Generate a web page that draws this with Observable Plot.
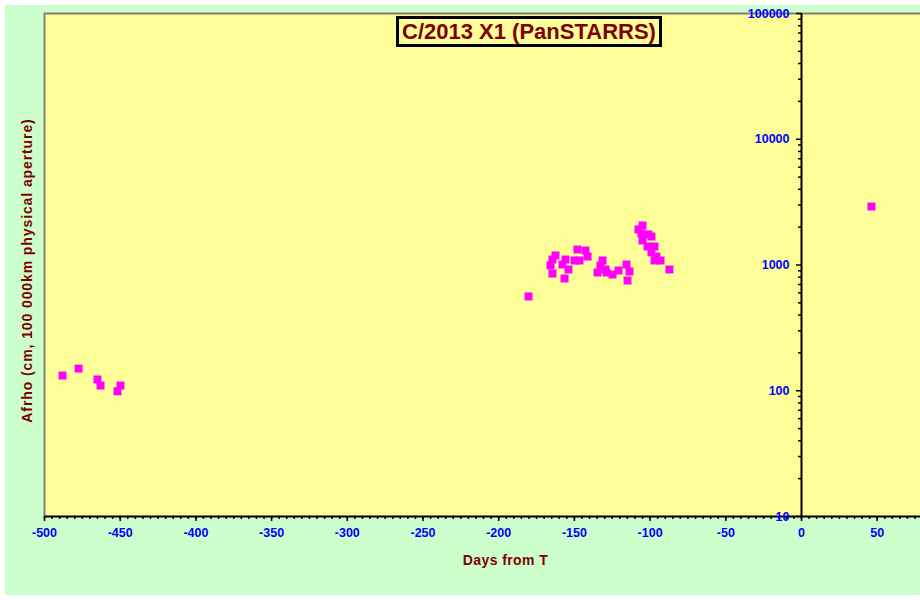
<!DOCTYPE html>
<html><head><meta charset="utf-8">
<script src="https://cdn.jsdelivr.net/npm/d3@7"></script>
<script src="https://cdn.jsdelivr.net/npm/@observablehq/plot@0.6"></script>
<style>
body{margin:0;background:#fff;}
#wrap{position:relative;width:920px;height:600px;overflow:hidden;background:#fff;}
#bg{position:absolute;left:5px;top:5px;width:915px;height:590px;background:#CCFFCC;}
#chart{position:absolute;left:0;top:0;}
#title{position:absolute;left:396px;top:16px;width:266px;height:31px;box-sizing:border-box;border:3px solid #000;background:#FFFF99;color:#800000;font:bold 22px "Liberation Sans",Arial,sans-serif;text-align:center;line-height:25px;white-space:nowrap;}
.ytitle text{letter-spacing:0.9px;}
.xtitle text{letter-spacing:0.4px;}
</style></head>
<body>
<div id="wrap"><div id="bg"></div><div id="chart"></div><div id="title">C/2013 X1 (PanSTARRS)</div></div>
<script>
const days = [-488.1, -477.5, -465.0, -463.0, -451.8, -449.8, -180.3, -162.5, -164.5, -165.8, -164.5, -156.5, -155.9, -157.9, -153.9, -149.9, -146.6, -148.0, -142.7, -141.3, -131.4, -132.8, -134.7, -129.5, -128.8, -124.8, -120.9, -115.6, -113.6, -114.9, -105.0, -107.7, -105.0, -105.7, -101.1, -99.1, -101.7, -97.1, -99.1, -95.8, -97.1, -93.1, -87.2, 46.2];
const afrho = [132, 150, 123, 110, 99, 110, 562, 1190, 1106, 991, 856, 781, 1106, 1009, 921, 1086, 1086, 1328, 1304, 1168, 1086, 991, 872, 921, 872, 840, 904, 1009, 888, 753, 2062, 1916, 1566, 1781, 1748, 1685, 1403, 1403, 1258, 1168, 1086, 1086, 921, 2918];
const xTicks = [-500, -450, -400, -350, -300, -250, -200, -150, -100, -50, 0, 50];
const yTicks = [10, 100, 1000, 10000, 100000];
const xMinor = d3.range(-500, 80, 5);
const yMinor = yTicks.slice(0, -1).flatMap(d => [2,3,4,5,6,7,8,9].map(k => d * k));
const titleText = "C/2013 X1 (PanSTARRS)";
const xTitle = "Days from T";
const yTitle = "Afrho (cm, 100 000km physical aperture)";

const data = days.map((d, i) => ({day: d, afrho: afrho[i]}));
const font = "'Liberation Sans', Arial, sans-serif";
const blue = "#0000FF", dark = "#800000";

const chart = Plot.plot({
  width: 920, height: 600,
  marginLeft: 44, marginRight: 0, marginTop: 13, marginBottom: 84,
  style: {background: "transparent", fontFamily: font, overflow: "visible"},
  x: {domain: [-500, 78.6], axis: null},
  y: {type: "log", domain: [10, 100000], axis: null},
  marks: [
    Plot.frame({fill: "#FFFF99", stroke: "none"}),
    Plot.ruleX([-500], {stroke: "#808080", strokeWidth: 2}),
    Plot.ruleY([100000], {stroke: "#808080", strokeWidth: 2}),
    Plot.ruleX([0], {stroke: "#000", strokeWidth: 2}),
    Plot.ruleY([10], {stroke: "#000", strokeWidth: 2}),
    Plot.ruleX(xMinor, {x: d => d, y1: 10, y2: 10, insetBottom: -3, stroke: "#000", strokeWidth: 1.5}),
    Plot.ruleX(xTicks, {x: d => d, y1: 10, y2: 10, insetBottom: -5, stroke: "#000", strokeWidth: 1.5}),
    Plot.ruleY(yMinor, {y: d => d, x1: 0, x2: 0, insetLeft: -3, stroke: "#000", strokeWidth: 1.5}),
    Plot.ruleY(yTicks, {y: d => d, x1: 0, x2: 0, insetLeft: -5, stroke: "#000", strokeWidth: 1.5}),
    Plot.text(xTicks, {x: d => d, y: 10, dy: 16, text: d => String(d), fill: blue, fontWeight: "bold", fontSize: 12.5}),
    Plot.text(yTicks, {x: 0, y: d => d, dx: -12, textAnchor: "end", text: d => String(d), fill: blue, fontWeight: "bold", fontSize: 12.5}),
    Plot.text([xTitle], {frameAnchor: "bottom", textAnchor: "middle", dx: 23, dy: 48, text: d => d, fill: dark, fontWeight: "bold", fontSize: 14, className: "xtitle"}),
    Plot.text([yTitle], {frameAnchor: "left", textAnchor: "middle", rotate: -90, dx: -17, dy: 5.5, text: d => d, fill: dark, fontWeight: "bold", fontSize: 14, className: "ytitle"}),
    Plot.dot(data, {x: "day", y: "afrho", symbol: "square", r: 4.5, fill: "#FF00FF", stroke: "none"})
  ]
});
document.getElementById("chart").appendChild(chart);
</script>
</body></html>
